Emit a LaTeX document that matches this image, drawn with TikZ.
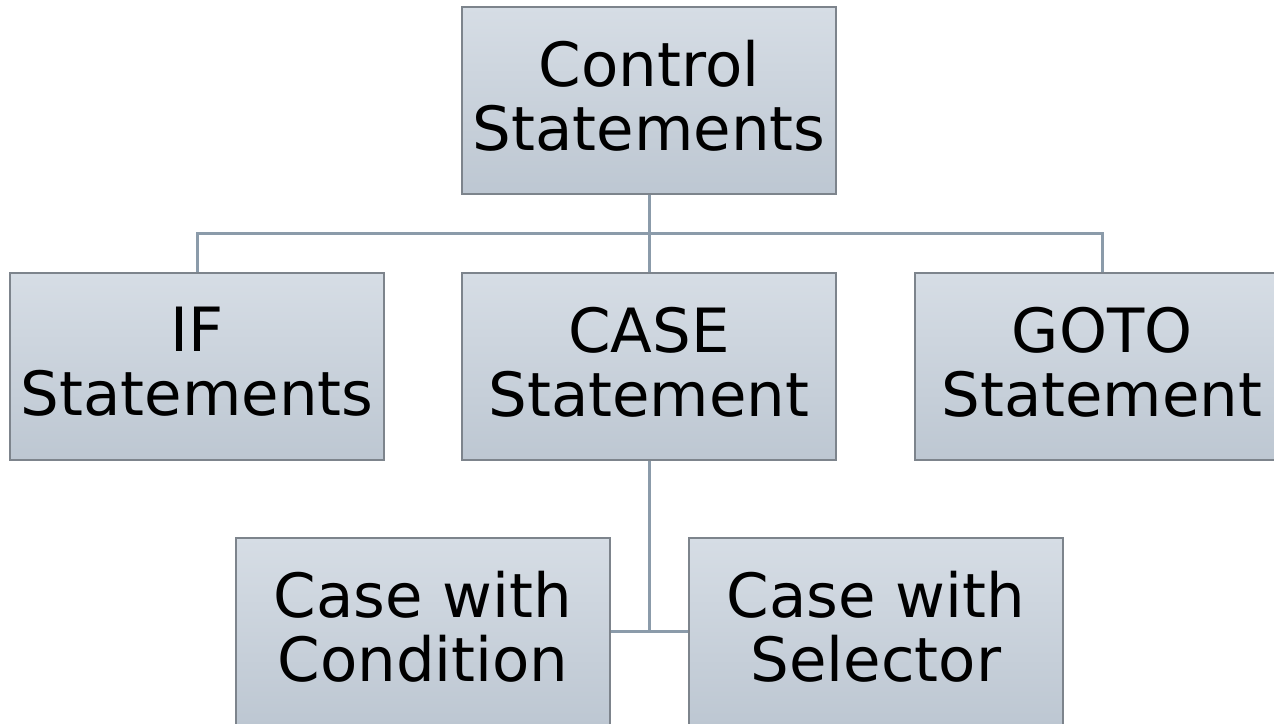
\documentclass[tikz,border=0pt]{standalone}
\usepackage{fontspec}
\setmainfont{DejaVu Sans}
\usepackage{tikz}

\definecolor{boxtop}{HTML}{D6DDE5}
\definecolor{boxbot}{HTML}{BDC7D2}
\definecolor{boxline}{HTML}{7D848C}
\definecolor{wire}{HTML}{8B9BAA}

\begin{document}
\begin{tikzpicture}[
    x=0.5pt, y=-0.5pt,
    box/.style={rectangle, draw=boxline, line width=0.75pt, top color=boxtop, bottom color=boxbot,
                minimum width=187pt, minimum height=93.5pt, align=center, inner sep=0pt,
                text depth=5pt, font=\fontsize{30.5}{32}\selectfont},
    link/.style={draw=wire, line width=1.5pt}
]
\useasboundingbox (0,0) rectangle (1274,723);
\clip (0,0) rectangle (1274,723);

\node[box] (ctrl) at (649,100.5) {Control\\Statements};
\node[box] (ifst) at (197,366.5) {IF\\Statements};
\node[box] (casest) at (649,366.5) {CASE\\Statement};
\node[box] (gotost) at (1102,366.5) {GOTO\\Statement};
\node[box] (cond) at (423,631.5) {Case with\\Condition};
\node[box] (sel) at (876,631.5) {Case with\\Selector};

\coordinate (bus) at (649,233);
\coordinate (sub) at (649,631);

\draw[link] (ctrl.south) -- (bus);
\draw[link] (bus) -| (ifst.north);
\draw[link] (bus) -- (casest.north);
\draw[link] (bus) -| (gotost.north);
\draw[link] (casest.south) -- (sub);
\draw[link] (sub) -- (cond.east |- sub);
\draw[link] (sub) -- (sel.west |- sub);
\end{tikzpicture}
\end{document}
